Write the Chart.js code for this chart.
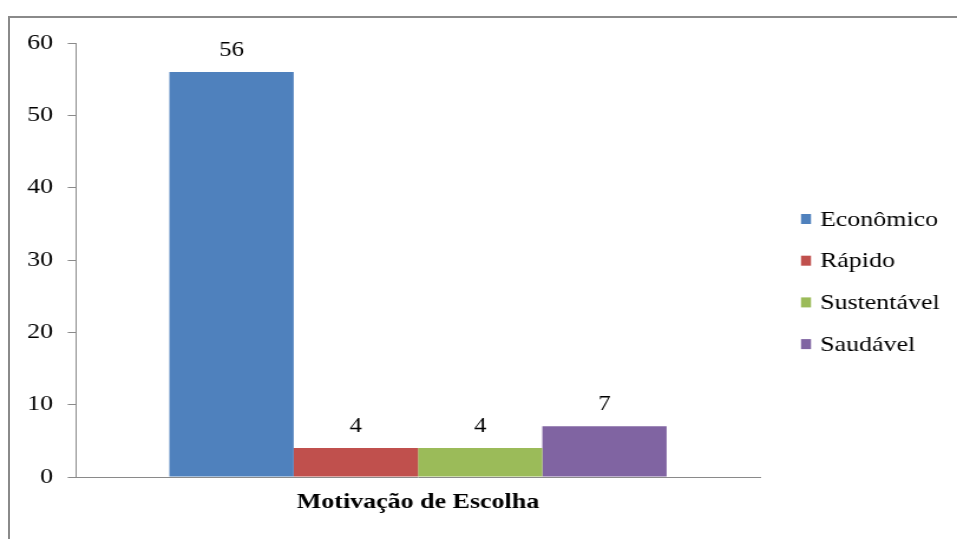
<!DOCTYPE html>
<html>
<head>
<meta charset="utf-8">
<script src="https://cdn.jsdelivr.net/npm/chart.js@4"></script>
<style>
  html, body { margin: 0; padding: 0; background: #fff; }
  #wrap { position: relative; width: 957px; height: 539px; overflow: hidden; }
  #frame { position: absolute; left: 8px; top: 16px; width: 980px; height: 560px; border: 2px solid #8a8a8a; }
  #chart { position: absolute; left: 0; top: 0; }
</style>
</head>
<body>
<div id="wrap">
  <div id="frame"></div>
  <!-- canvas desenhado mais estreito e esticado na horizontal, como a imagem original -->
  <canvas id="chart" width="811" height="539" style="width:957px;height:539px"></canvas>
</div>
<script>
// dados do gráfico
const categories = ['Motivação de Escolha'];
const seriesNames = ['Econômico', 'Rápido', 'Sustentável', 'Saudável'];
const seriesValues = [56, 4, 4, 7];
const seriesColors = ['#4F81BD', '#C0504D', '#9BBB59', '#8064A2'];
const yTicks = [0, 10, 20, 30, 40, 50, 60];

const serif = "'Liberation Serif', 'Times New Roman', serif";
const SX = 957 / 811; // fator de esticamento horizontal

// rótulos acima das barras
const valueLabels = {
  id: 'valueLabels',
  afterDatasetsDraw(chart) {
    const ctx = chart.ctx;
    ctx.save();
    ctx.font = '21px ' + serif;
    ctx.fillStyle = '#000';
    ctx.textAlign = 'center';
    ctx.textBaseline = 'alphabetic';
    chart.data.datasets.forEach((ds, i) => {
      const meta = chart.getDatasetMeta(i);
      meta.data.forEach((bar, j) => {
        ctx.fillText(String(ds.data[j]), bar.x, bar.y - 16);
      });
    });
    ctx.restore();
  }
};

// legenda à direita
const sideLegend = {
  id: 'sideLegend',
  afterDraw(chart) {
    const ctx = chart.ctx;
    ctx.save();
    ctx.font = '22px ' + serif;
    ctx.textAlign = 'left';
    ctx.textBaseline = 'middle';
    chart.data.datasets.forEach((ds, i) => {
      const y = 219 + i * 41.7;
      ctx.fillStyle = ds.backgroundColor;
      ctx.fillRect(801 / SX, y - 5, 10 / SX, 10);
      ctx.fillStyle = '#000';
      ctx.fillText(ds.label, 820 / SX, y + 1);
    });
    ctx.restore();
  }
};

new Chart(document.getElementById('chart'), {
  type: 'bar',
  data: {
    labels: categories,
    datasets: seriesNames.map((name, i) => ({
      label: name,
      data: [seriesValues[i]],
      backgroundColor: seriesColors[i],
      borderWidth: 0,
      categoryPercentage: 0.727,
      barPercentage: 1
    }))
  },
  options: {
    responsive: false,
    animation: false,
    layout: { padding: { left: 0, top: 43, right: 811 - 760 / SX, bottom: 0 } },
    plugins: {
      legend: { display: false },
      tooltip: { enabled: false }
    },
    scales: {
      x: {
        grid: { drawOnChartArea: false, drawTicks: false },
        border: { color: '#8a8a8a', width: 1 },
        ticks: {
          color: '#000',
          padding: 12,
          font: { family: serif, size: 22, weight: 'bold' }
        },
        afterFit(scale) { scale.height = 62; }
      },
      y: {
        min: yTicks[0],
        max: yTicks[yTicks.length - 1],
        afterBuildTicks(scale) { scale.ticks = yTicks.map(v => ({ value: v })); },
        grid: { drawOnChartArea: false, tickLength: 7, color: '#8a8a8a' },
        border: { color: '#8a8a8a', width: 1 },
        ticks: {
          color: '#000',
          padding: 12.5,
          font: { family: serif, size: 22 }
        },
        afterFit(scale) { scale.width = 76 / SX; }
      }
    }
  },
  plugins: [valueLabels, sideLegend]
});
</script>
</body>
</html>
